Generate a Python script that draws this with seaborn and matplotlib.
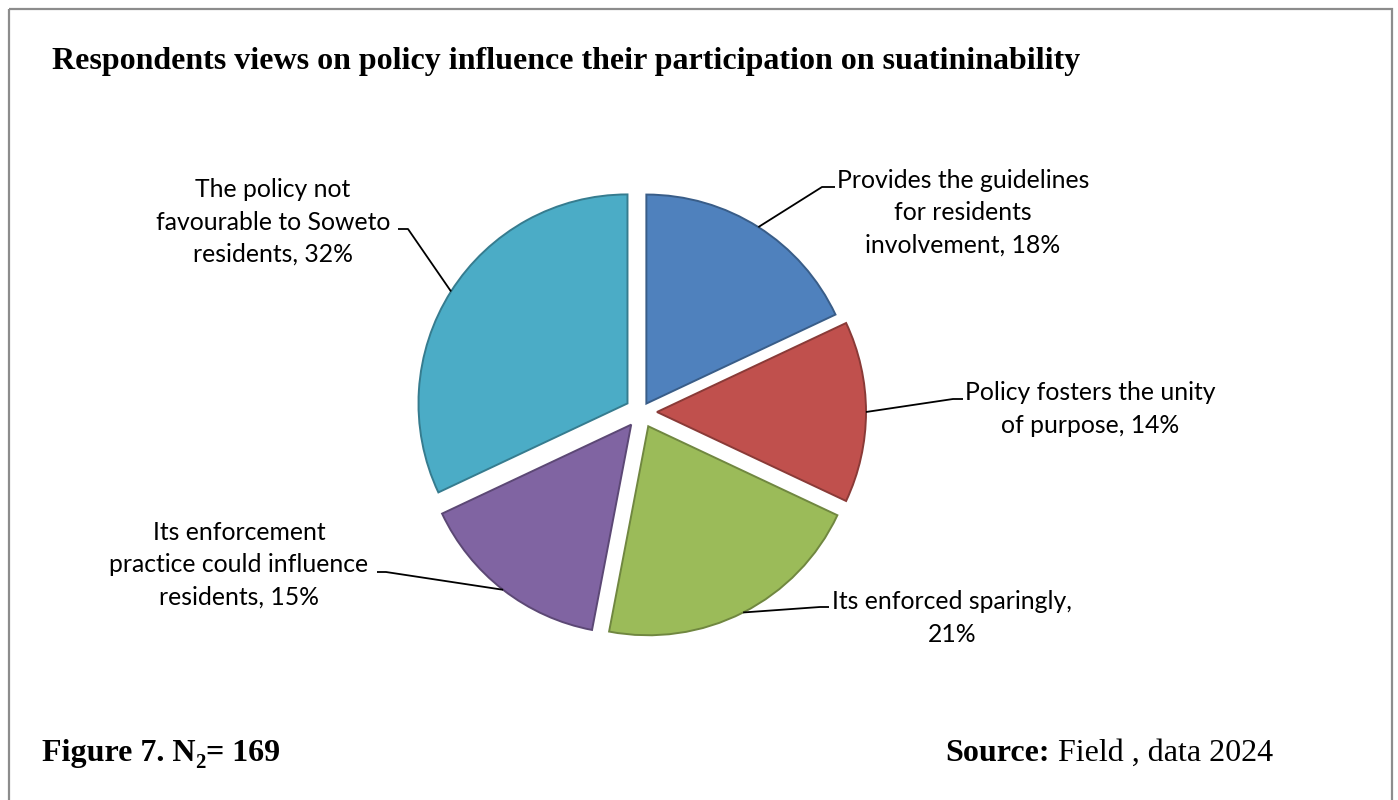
import numpy as np
import matplotlib
matplotlib.use("Agg")
import matplotlib.pyplot as plt
import matplotlib.patches as mpatches
import seaborn as sns

# --- data -------------------------------------------------------------
labels = [
    "Provides the guidelines\nfor residents\ninvolvement",
    "Policy fosters the unity\nof purpose",
    "Its enforced sparingly,",
    "Its enforcement\npractice could influence\nresidents",
    "The policy not\nfavourable to Soweto\nresidents",
]
shares = [18, 14, 21, 15, 32]
colors = ["#4F81BD", "#C0504D", "#9BBB59", "#8064A2", "#4BACC6"]

title = "Respondents views on policy influence their participation on suatininability"

# --- theme ------------------------------------------------------------
sns.set_theme(style="white")
palette = sns.color_palette(colors)
edge_palette = [tuple(c * 0.72 for c in col) for col in palette]
plt.rcParams["font.family"] = ["Lato", "DejaVu Sans"]

W, H = 1398, 800
fig = plt.figure(figsize=(W / 100, H / 100), dpi=100)
ax = fig.add_axes([0, 0, 1, 1])

# pie in pixel units (y axis inverted, so counterclock=True runs clockwise on screen)
cx, cy, R = 641, 412, 209
explode = [10, 16, 16, 16, 16]
wedges, _ = ax.pie(
    shares,
    colors=palette,
    center=(cx, cy),
    radius=R,
    explode=explode,
    startangle=-90,
    counterclock=True,
    wedgeprops=dict(linewidth=1.4),
)
for w, ec in zip(wedges, edge_palette):
    w.set_edgecolor(ec)

ax.set_xlim(0, W)
ax.set_ylim(H, 0)
ax.set_aspect("auto")
ax.axis("off")

# label layout: elbow of the leader line, end of its short tail, text block centre
layout = [
    dict(elbow=(822, 187), tail=(835, 187), text=(963, 213)),
    dict(elbow=(953, 399), tail=(963, 399), text=(1090, 409)),
    dict(elbow=(820, 607), tail=(829, 607), text=(952, 618)),
    dict(elbow=(386, 572), tail=(377, 572), text=(239, 565)),
    dict(elbow=(408, 229), tail=(398, 229), text=(273, 222)),
]

for w, lab, val, lay in zip(wedges, labels, shares, layout):
    mid = np.deg2rad(0.5 * (w.theta1 + w.theta2))
    wx, wy = w.center
    sx, sy = wx + w.r * np.cos(mid), wy + w.r * np.sin(mid)
    ex, ey = lay["elbow"]
    tx, ty = lay["tail"]
    ax.plot([sx, ex, tx], [sy, ey, ty], color="black", lw=1.3,
            solid_capstyle="butt", zorder=3)
    if lab.endswith(","):
        txt = f"{lab}\n{val}%"
    else:
        txt = f"{lab}, {val}%"
    ax.text(lay["text"][0], lay["text"][1], txt, ha="center", va="center",
            multialignment="center", fontsize=17.8, linespacing=1.5,
            color="black")

serif = ["Liberation Serif", "DejaVu Serif"]

# title
ax.text(52, 62, title, ha="left", va="center", fontsize=23, fontweight="bold",
        family=serif, color="black")

# footer pieces laid out one after another
fig.canvas.draw()
renderer = fig.canvas.get_renderer()


def put(x, y, s, size=23, weight="normal"):
    t = ax.text(x, y, s, ha="left", va="baseline", fontsize=size,
                fontweight=weight, family=serif, color="black")
    bb = t.get_window_extent(renderer)
    return bb.x1


base = 761
x = put(42, base, "Figure 7. N", weight="bold")
x = put(x, base + 7, "2", size=15, weight="bold")
put(x, base, "= 169", weight="bold")

x = put(945, base, "Source:", weight="bold")
put(x, base, " Field , data 2024")

# outer frame
frame = mpatches.Rectangle((9, 9), W - 15, H + 20, fill=False,
                           edgecolor="#8c8c8c", lw=1.6, clip_on=False)
ax.add_patch(frame)

fig.savefig("out.png", dpi=100, facecolor="white")
